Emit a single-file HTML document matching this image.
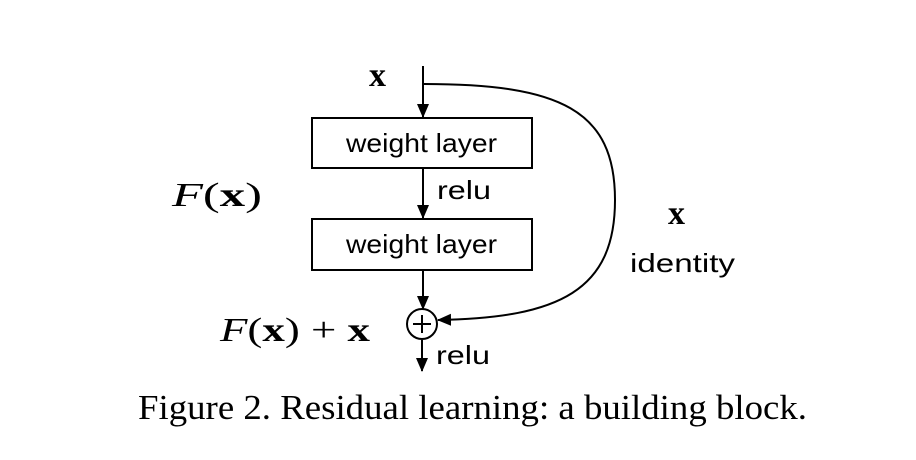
<!DOCTYPE html>
<html><head><style>
body{margin:0;background:#fff;}
svg{display:block}
</style></head><body>
<svg width="916" height="460" viewBox="0 0 916 460" xmlns="http://www.w3.org/2000/svg">
<defs><marker id="a" markerWidth="14" markerHeight="14" refX="13" refY="6" orient="auto" markerUnits="userSpaceOnUse"><path d="M0,0 L14,6 L0,12 Z" fill="#000"/></marker></defs>
<g stroke="#000" stroke-width="2" fill="none">
<rect x="312" y="118" width="220" height="50" fill="#fff"/>
<rect x="312" y="219" width="220" height="51" fill="#fff"/>
<line x1="423" y1="66" x2="423" y2="117" marker-end="url(#a)"/>
<line x1="423" y1="168" x2="423" y2="218" marker-end="url(#a)"/>
<line x1="423" y1="270" x2="423" y2="309" marker-end="url(#a)"/>
<line x1="422" y1="340" x2="422" y2="371" marker-end="url(#a)"/>
<circle cx="422" cy="324" r="15"/>
<line x1="413" y1="324" x2="431" y2="324"/><line x1="422" y1="315" x2="422" y2="333"/>
<path d="M424,84 C560,84 615,110 615,200 C615,290 560,318 438,320" marker-end="url(#a)"/>
</g>
<g font-family="Liberation Sans, sans-serif" font-size="26" fill="#000">
<text x="346" y="152" textLength="151" lengthAdjust="spacingAndGlyphs">weight layer</text>
<text x="346" y="253" textLength="151" lengthAdjust="spacingAndGlyphs">weight layer</text>
<text x="437" y="199" textLength="54" lengthAdjust="spacingAndGlyphs">relu</text>
<text x="436" y="364" textLength="54" lengthAdjust="spacingAndGlyphs">relu</text>
<text x="630" y="272" textLength="105" lengthAdjust="spacingAndGlyphs">identity</text>
</g>
<g font-family="Liberation Serif, serif" font-size="34" fill="#000">
<text x="369" y="86" font-weight="bold">x</text>
<text x="668" y="224" font-weight="bold">x</text>
<text x="172" y="206" textLength="90" lengthAdjust="spacingAndGlyphs"><tspan font-style="italic">F</tspan>(<tspan font-weight="bold">x</tspan>)</text>
<text x="220" y="341" textLength="150" lengthAdjust="spacingAndGlyphs"><tspan font-style="italic">F</tspan>(<tspan font-weight="bold">x</tspan>) + <tspan font-weight="bold">x</tspan></text>
<text x="138" y="419" font-size="35" textLength="669" lengthAdjust="spacingAndGlyphs">Figure 2. Residual learning: a building block.</text>
</g>
</svg>
</body></html>
